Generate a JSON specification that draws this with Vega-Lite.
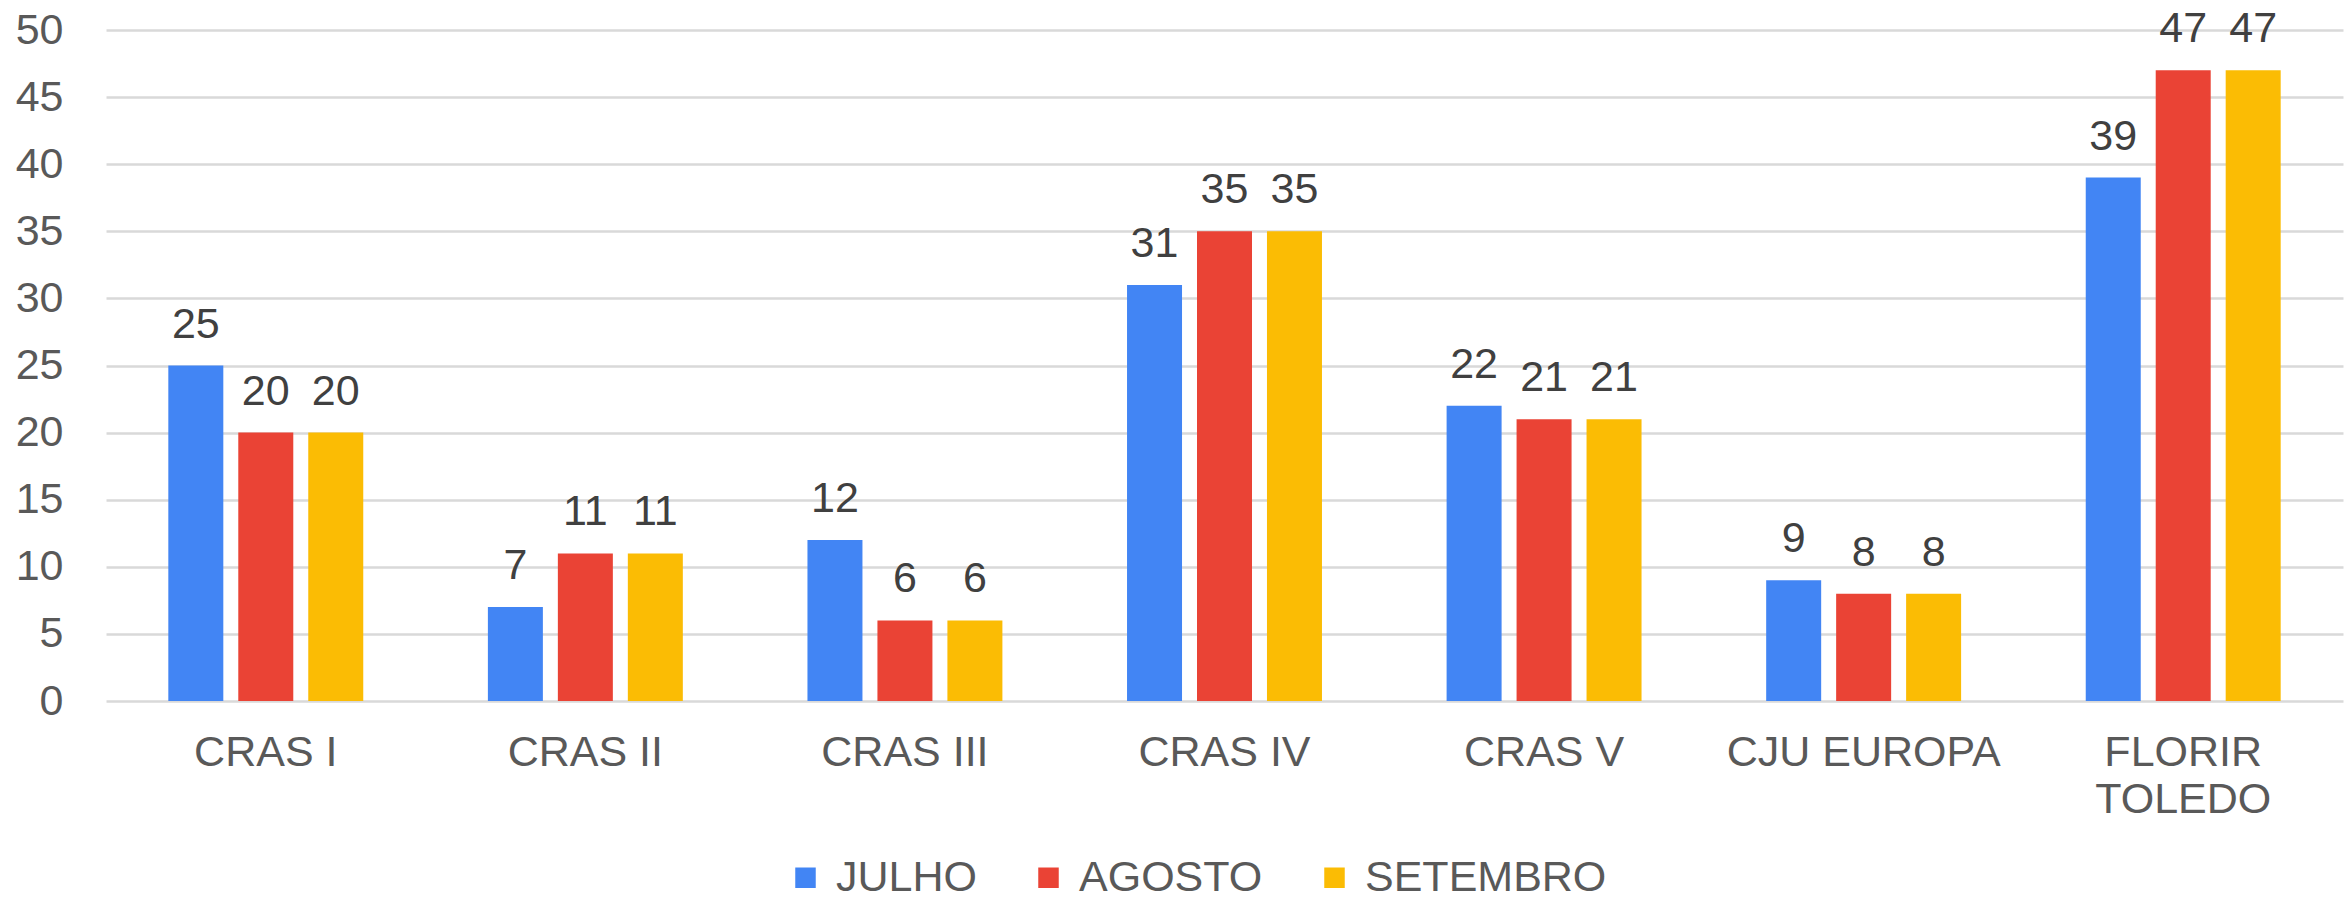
{
  "$schema": "https://vega.github.io/schema/vega-lite/v6.json",
  "width": 2237,
  "height": 671,
  "autosize": {"type": "none"},
  "padding": {"left": 106, "top": 30, "right": 8, "bottom": 200},
  "background": "white",
  "config": {
    "view": {"stroke": null},
    "font": "Liberation Sans",
    "axis": {"labelFont": "Liberation Sans", "labelFontSize": 43, "labelColor": "#595959", "labelLimit": 0},
    "legend": {"labelFont": "Liberation Sans", "labelFontSize": 43, "labelColor": "#595959", "labelLimit": 0}
  },
  "data": {
    "values": [
      {"local": "CRAS I", "mes": "JULHO", "valor": 25},
      {"local": "CRAS I", "mes": "AGOSTO", "valor": 20},
      {"local": "CRAS I", "mes": "SETEMBRO", "valor": 20},
      {"local": "CRAS II", "mes": "JULHO", "valor": 7},
      {"local": "CRAS II", "mes": "AGOSTO", "valor": 11},
      {"local": "CRAS II", "mes": "SETEMBRO", "valor": 11},
      {"local": "CRAS III", "mes": "JULHO", "valor": 12},
      {"local": "CRAS III", "mes": "AGOSTO", "valor": 6},
      {"local": "CRAS III", "mes": "SETEMBRO", "valor": 6},
      {"local": "CRAS IV", "mes": "JULHO", "valor": 31},
      {"local": "CRAS IV", "mes": "AGOSTO", "valor": 35},
      {"local": "CRAS IV", "mes": "SETEMBRO", "valor": 35},
      {"local": "CRAS V", "mes": "JULHO", "valor": 22},
      {"local": "CRAS V", "mes": "AGOSTO", "valor": 21},
      {"local": "CRAS V", "mes": "SETEMBRO", "valor": 21},
      {"local": "CJU EUROPA", "mes": "JULHO", "valor": 9},
      {"local": "CJU EUROPA", "mes": "AGOSTO", "valor": 8},
      {"local": "CJU EUROPA", "mes": "SETEMBRO", "valor": 8},
      {"local": "FLORIR TOLEDO", "mes": "JULHO", "valor": 39},
      {"local": "FLORIR TOLEDO", "mes": "AGOSTO", "valor": 47},
      {"local": "FLORIR TOLEDO", "mes": "SETEMBRO", "valor": 47}
    ]
  },
  "encoding": {
    "x": {
      "field": "local",
      "type": "nominal",
      "sort": null,
      "scale": {"paddingInner": 0.39, "paddingOuter": 0.195},
      "axis": {
        "title": null,
        "labelAngle": 0,
        "ticks": false,
        "domain": false,
        "grid": false,
        "labelPadding": 30,
        "labelBaseline": "top",
        "labelLineHeight": 47,
        "labelExpr": "datum.value == 'FLORIR TOLEDO' ? ['FLORIR', 'TOLEDO'] : datum.value"
      }
    },
    "xOffset": {
      "field": "mes",
      "type": "nominal",
      "sort": ["JULHO", "AGOSTO", "SETEMBRO"],
      "scale": {"paddingInner": 0.214, "paddingOuter": 0}
    },
    "y": {
      "field": "valor",
      "type": "quantitative",
      "scale": {"domain": [0, 50], "nice": false},
      "axis": {
        "title": null,
        "values": [0, 5, 10, 15, 20, 25, 30, 35, 40, 45, 50],
        "ticks": false,
        "domain": false,
        "gridColor": "#d9d9d9",
        "gridWidth": 2.5,
        "labelPadding": 43
      }
    }
  },
  "layer": [
    {
      "mark": {"type": "bar"},
      "encoding": {
        "color": {
          "field": "mes",
          "type": "nominal",
          "sort": ["JULHO", "AGOSTO", "SETEMBRO"],
          "scale": {"domain": ["JULHO", "AGOSTO", "SETEMBRO"], "range": ["#4285F4", "#EA4335", "#FBBC04"]},
          "legend": {
            "title": null,
            "orient": "none",
            "legendX": 678,
            "legendY": 826,
            "direction": "horizontal",
            "padding": 0,
            "symbolType": "square",
            "symbolSize": 420,
            "symbolStrokeWidth": 0,
            "labelOffset": 9,
            "columnPadding": 50
          }
        }
      }
    },
    {
      "mark": {"type": "text", "baseline": "alphabetic", "dy": -28, "fontSize": 43, "color": "#404040", "font": "Liberation Sans"},
      "encoding": {
        "text": {"field": "valor", "type": "quantitative"}
      }
    }
  ]
}
